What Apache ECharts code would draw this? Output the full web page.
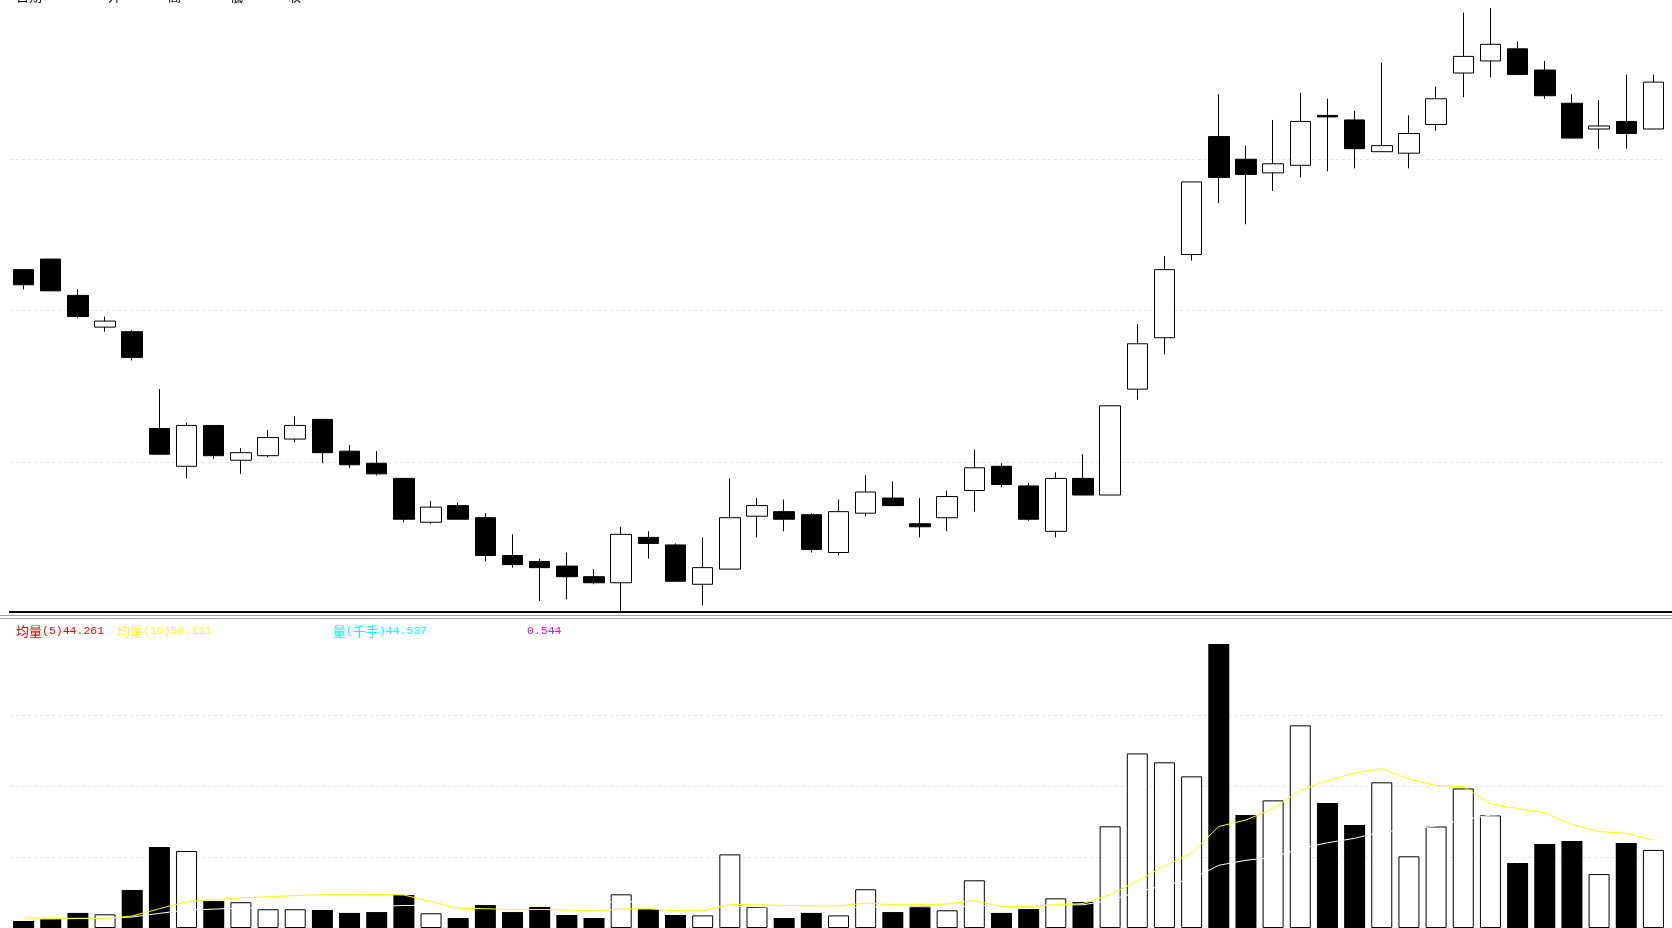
<!DOCTYPE html>
<html>
<head>
<meta charset="utf-8">
<script src="https://cdn.jsdelivr.net/npm/echarts@6/dist/echarts.min.js"></script>
<style>
html,body{margin:0;padding:0;background:#ffffff;}
#main{width:1672px;height:928px;}
</style>
</head>
<body>
<div id="main"></div>
<script>
// ---- data ----
const categories = [1,2,3,4,5,6,7,8,9,10,11,12,13,14,15,16,17,18,19,20,21,22,23,24,25,26,27,28,29,30,
  31,32,33,34,35,36,37,38,39,40,41,42,43,44,45,46,47,48,49,50,51,52,53,54,55,56,57,58,59,60,61];

const openPrices = [12.27,12.34,12.10,11.89,11.86,11.22,10.97,11.24,11.01,11.04,11.15,11.28,11.07,10.99,10.89,
  10.60,10.71,10.63,10.38,10.34,10.31,10.24,10.20,10.50,10.45,10.19,10.29,10.64,10.67,10.65,
  10.40,10.66,10.76,10.59,10.63,10.81,10.97,10.84,10.54,10.89,10.78,11.48,11.82,12.37,13.15,
  13.00,12.91,12.96,13.29,13.26,13.05,13.04,13.23,13.57,13.65,13.73,13.59,13.37,13.20,13.25,13.20];

const closePrices = [12.17,12.13,11.96,11.93,11.69,11.05,11.24,11.04,11.06,11.16,11.24,11.06,10.98,10.92,10.62,
  10.70,10.62,10.38,10.32,10.30,10.24,10.20,10.52,10.46,10.21,10.30,10.63,10.71,10.62,10.42,
  10.67,10.80,10.71,10.57,10.77,10.96,10.85,10.62,10.89,10.78,11.37,11.78,12.27,12.85,12.88,
  12.90,12.97,13.25,13.28,13.07,13.09,13.17,13.40,13.68,13.76,13.56,13.42,13.14,13.22,13.17,13.51];

const lowPrices = [12.14,12.13,11.95,11.86,11.67,11.05,10.89,11.02,10.92,11.03,11.13,10.99,10.96,10.91,10.60,
  10.59,10.62,10.34,10.30,10.08,10.09,10.19,10.00,10.36,10.21,10.05,10.29,10.50,10.54,10.40,
  10.38,10.64,10.71,10.50,10.54,10.67,10.83,10.61,10.50,10.78,10.78,11.41,11.71,12.33,12.71,
  12.57,12.79,12.88,12.92,12.94,13.05,12.94,13.19,13.41,13.54,13.56,13.40,13.14,13.07,13.07,13.20];

const highPrices = [12.27,12.34,12.14,11.96,11.87,11.48,11.26,11.24,11.09,11.21,11.30,11.28,11.11,11.07,10.89,
  10.74,10.73,10.66,10.52,10.36,10.40,10.29,10.57,10.54,10.46,10.50,10.89,10.76,10.75,10.66,
  10.75,10.91,10.87,10.76,10.81,11.08,10.99,10.86,10.93,11.05,11.37,11.91,12.36,12.85,13.43,
  13.09,13.26,13.44,13.40,13.32,13.64,13.29,13.48,13.97,14.00,13.78,13.65,13.43,13.39,13.56,13.56];

// volume, 千手
const volumes = [4.0,5.1,8.6,7.8,21.7,46.2,43.9,15.4,14.7,10.7,10.7,10.3,8.6,9.1,18.8,
  8.4,5.7,13.1,9.1,12.0,7.4,5.7,19.2,10.7,7.4,7.2,42.0,12.0,5.7,8.6,
  7.2,22.1,9.1,12.5,10.1,27.2,8.6,10.8,16.9,14.8,58.0,99.6,94.5,86.5,162.0,
  64.5,72.8,115.6,71.3,58.8,83.1,40.9,57.9,79.6,64.3,37.1,47.9,49.6,30.77,48.5,44.537];

// the 19 sessions before the first visible bar (estimated from where the average lines start)
const priorVolumes = [5.6,5.1,5.8,5.3,5.5,5.0,5.4,3.1,2.6,2.9,8.4,7.9,8.8,8.1,4.5,3.9,4.4,4.0,4.3];

const priceAxis = {min: 10, max: 14, interval: 1};
const volumeAxis = {min: 0, max: 162, interval: 40.5};
const extraReading = '0.544';
const headerLabels = ['日期', '开', '高', '低', '收'];

// ---- derived ----
const allVol = priorVolumes.concat(volumes);
function movingAvg(n) {
  const out = [];
  for (let i = 0; i < volumes.length; i++) {
    const end = i + priorVolumes.length;
    let s = 0, c = 0;
    for (let k = end; k > end - n && k >= 0; k--) { s += allVol[k]; c++; }
    out.push(+(s / c).toFixed(3));
  }
  return out;
}
const ma5 = movingAvg(5);
const ma10 = movingAvg(10);
const ma20 = movingAvg(20);

const candleData = categories.map((_, i) => [openPrices[i], closePrices[i], lowPrices[i], highPrices[i]]);
const volData = volumes.map((v, i) => {
  const up = closePrices[i] >= openPrices[i];
  return {
    value: v,
    itemStyle: up ? {color: '#ffffff', borderColor: '#000000', borderWidth: 1}
                  : {color: '#000000', borderColor: '#000000', borderWidth: 0}
  };
});

const last = volumes.length - 1;
const monoFont = '"Liberation Mono", "DejaVu Sans Mono", monospace';
const cjkFont = '"Noto Sans CJK SC", sans-serif';
function richLabel(x, color, text) {
  return {
    type: 'text', x: x, y: 631, silent: true,
    style: {
      text: text,
      verticalAlign: 'middle', align: 'left',
      rich: {
        c: {fontFamily: cjkFont, fontSize: 13, fill: color},
        n: {fontFamily: monoFont, fontSize: 11.5, fill: color}
      }
    }
  };
}

const headerX = [16, 108, 168, 230, 288];
const graphics = [
  {type: 'line', silent: true, shape: {x1: 9, y1: 612, x2: 1672, y2: 612}, style: {stroke: '#000000', lineWidth: 2}},
  {type: 'line', silent: true, shape: {x1: 0, y1: 615.5, x2: 1672, y2: 615.5}, style: {stroke: '#a0a0a0', lineWidth: 1}},
  {type: 'line', silent: true, shape: {x1: 0, y1: 618.5, x2: 1672, y2: 618.5}, style: {stroke: '#a0a0a0', lineWidth: 1}},
  richLabel(16, '#ff0000', '{c|均量}{n|(5)' + ma5[last].toFixed(3) + '}'),
  richLabel(117, '#ffff00', '{c|均量}{n|(10)' + ma10[last].toFixed(3) + '}'),
  richLabel(333, '#00ffff', '{c|量}{n|(}{c|千手}{n|)' + volumes[last].toFixed(3) + '}'),
  {type: 'text', x: 527, y: 631, silent: true,
   style: {text: extraReading, verticalAlign: 'middle', fontFamily: monoFont, fontSize: 11.5, fill: '#ff00ff'}}
];
headerLabels.forEach((t, i) => {
  graphics.push({type: 'text', x: headerX[i], y: -4, silent: true,
    style: {text: t, verticalAlign: 'middle', fontFamily: cjkFont, fontSize: 13, fill: '#000000'}});
});

const splitStyle = {show: true, showMinLine: false, showMaxLine: false,
  lineStyle: {color: '#e6e6e6', type: [3, 3], width: 1}};

const chart = echarts.init(document.getElementById('main'), null, {renderer: 'canvas'});
chart.setOption({
  animation: false,
  backgroundColor: '#ffffff',
  grid: [
    {left: 10, right: 5, top: 8, height: 605},
    {left: 10, right: 5, top: 644, height: 284}
  ],
  xAxis: [
    {type: 'category', gridIndex: 0, data: categories, boundaryGap: true,
     axisLine: {show: false}, axisTick: {show: false}, axisLabel: {show: false}, splitLine: {show: false}},
    {type: 'category', gridIndex: 1, data: categories, boundaryGap: true,
     axisLine: {show: false}, axisTick: {show: false}, axisLabel: {show: false}, splitLine: {show: false}}
  ],
  yAxis: [
    {type: 'value', gridIndex: 0, min: priceAxis.min, max: priceAxis.max, interval: priceAxis.interval,
     axisLine: {show: false}, axisTick: {show: false}, axisLabel: {show: false}, splitLine: splitStyle},
    {type: 'value', gridIndex: 1, min: volumeAxis.min, max: volumeAxis.max, interval: volumeAxis.interval,
     axisLine: {show: false}, axisTick: {show: false}, axisLabel: {show: false}, splitLine: splitStyle}
  ],
  series: [
    {type: 'candlestick', xAxisIndex: 0, yAxisIndex: 0, data: candleData, barWidth: 21,
     itemStyle: {color: '#ffffff', color0: '#000000', borderColor: '#000000', borderColor0: '#000000', borderWidth: 1}},
    {type: 'bar', xAxisIndex: 1, yAxisIndex: 1, data: volData, barWidth: 21, z: 2},
    {type: 'line', xAxisIndex: 1, yAxisIndex: 1, data: ma20, showSymbol: false, symbol: 'none', z: 5,
     lineStyle: {color: '#ffffff', width: 1}},
    {type: 'line', xAxisIndex: 1, yAxisIndex: 1, data: ma10, showSymbol: false, symbol: 'none', z: 5,
     lineStyle: {color: '#ffff00', width: 1}}
  ],
  graphic: graphics
});
</script>
</body>
</html>
